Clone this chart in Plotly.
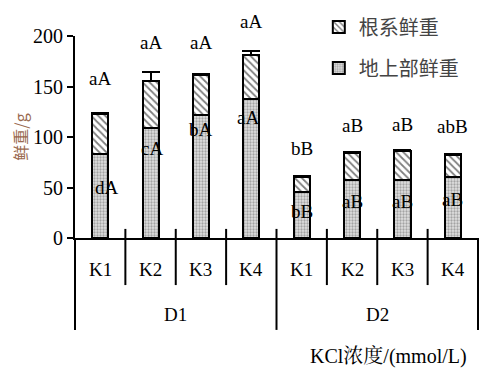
import plotly.graph_objects as go

groups = ["D1", "D2"]
levels = ["K1", "K2", "K3", "K4"]
categories = [f"{g}-{k}" for g in groups for k in levels]
shoot = [83, 109, 122, 138, 46, 57, 57, 60]
root = [40, 46, 39, 43, 14, 27, 29, 22]
shoot_err = [1, 1, 8, 10, 7, 2, 1, 7]
total_err = [1, 9, 1, 4, 1, 1, 1, 1]
total_labels = ["aA", "aA", "aA", "aA", "bB", "aB", "aB", "abB"]
total_label_y = [158, 194, 194, 214, 89, 111, 112, 110]
shoot_labels = ["dA", "cA", "bA", "aA", "bB", "aB", "aB", "aB"]
shoot_label_y = [50, 89, 107, 119, 26, 36, 36, 38]
y_max = 200
x_title = "KCl浓度/(mmol/L)"
y_title = "鲜重/g"

serif = "Liberation Serif"
fs = 19
xs = list(range(len(categories)))

fig = go.Figure()
fig.add_trace(go.Bar(
    x=xs, y=shoot, name="地上部鲜重", width=0.32, legendgroup="b", legendrank=2,
    marker=dict(color="#d9d9d9", line=dict(color="black", width=2),
                pattern=dict(shape=".", fgcolor="#666666", bgcolor="#e0e0e0", size=3, solidity=0.45)),
    error_y=dict(type="data", symmetric=False, array=shoot_err, arrayminus=[0]*8,
                 color="black", thickness=2, width=8),
))
fig.add_trace(go.Bar(
    x=xs, y=root, name="根系鲜重", width=0.32, legendgroup="a", legendrank=1,
    marker=dict(color="white", line=dict(color="black", width=2),
                pattern=dict(shape="\\", fgcolor="black", bgcolor="white", size=5, solidity=0.35)),
    error_y=dict(type="data", symmetric=False, array=total_err, arrayminus=[0]*8,
                 color="black", thickness=2, width=9),
))

lab = dict(showarrow=False, xanchor="center", yanchor="middle")
font = dict(family=serif, size=fs, color="black")
annotations = []
shifts = [7, 1, 0, -3, 0, 0, 0, 0]
for i in xs:
    annotations.append(dict(x=i, y=total_label_y[i] / y_max, xref="x", yref="y domain",
                            text=total_labels[i], font=font, **lab))
    annotations.append(dict(x=i, y=shoot_label_y[i] / y_max, xref="x", yref="y domain",
                            text=shoot_labels[i], xshift=shifts[i], font=font, **lab))

n = len(categories)
shapes = []
for i, c in enumerate(categories):
    annotations.append(dict(x=(i + 0.5) / n, y=-0.158, xref="x domain", yref="y domain",
                            text=c.split("-")[1], font=font, **lab))
for gi, g in enumerate(groups):
    annotations.append(dict(x=(gi * 4 + 2) / n, y=-0.381, xref="x domain", yref="y domain",
                            text=g, font=font, **lab))
annotations.append(dict(x=0.977, y=-0.589, xref="x domain", yref="y domain", text=x_title,
                        showarrow=False, xanchor="right", yanchor="middle",
                        font=dict(family="Liberation Serif, Noto Serif CJK SC, Noto Sans CJK SC", size=20, color="black")))

for b in range(n + 1):
    xp = b / n
    bottom = -0.455 if b % 4 == 0 else -0.233
    top = 0.0 if b in (0, n) else 0.045
    shapes.append(dict(type="line", xref="x domain", yref="y domain", x0=xp, x1=xp, y0=bottom, y1=top,
                       line=dict(color="black", width=2)))

fig.update_layout(
    width=493, height=386,
    margin=dict(l=67, r=23, t=4, b=156, autoexpand=False),
    paper_bgcolor="white", plot_bgcolor="white",
    barmode="stack",
    showlegend=True,
    legend=dict(x=0.605, y=1.02, xanchor="left", yanchor="top", traceorder="grouped",
                tracegroupgap=12, bgcolor="rgba(0,0,0,0)",
                font=dict(family="Noto Sans CJK SC", size=20, color="#444444")),
    xaxis=dict(range=[-0.5, 7.5], showticklabels=False, ticks="", showline=True,
               linecolor="black", linewidth=2, showgrid=False, zeroline=False, automargin=False),
    yaxis=dict(range=[0, y_max], domain=[0, 202 / 226], tickvals=[0, 50, 100, 150, 200],
               ticks="outside", ticklen=6, automargin=False,
               tickwidth=2, tickcolor="black", showline=True, linecolor="black", linewidth=2,
               showgrid=False, zeroline=False,
               tickfont=dict(family=serif, size=20, color="black"),
               title=dict(text=y_title, font=dict(family="Noto Sans CJK SC", size=16, color="#9a6a50"),
                          standoff=12)),
    annotations=annotations,
    shapes=shapes,
)

fig.write_html("out.html")
